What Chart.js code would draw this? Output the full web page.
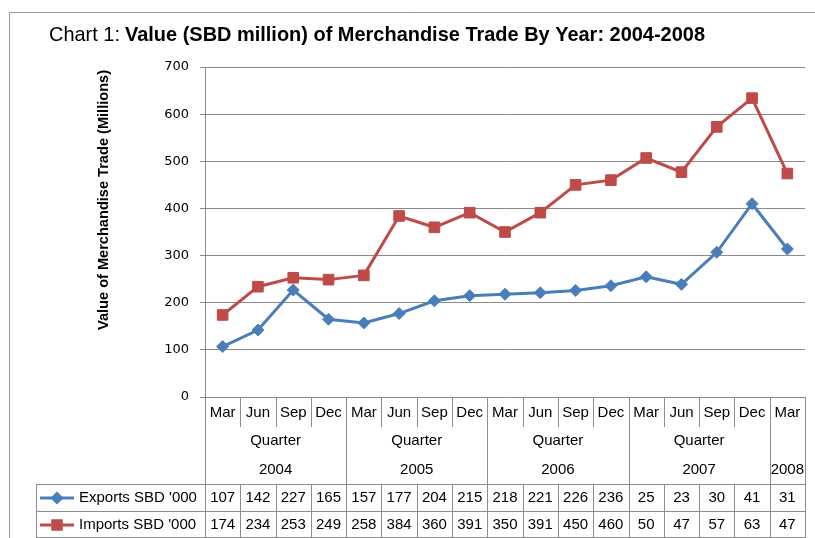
<!DOCTYPE html>
<html>
<head>
<meta charset="utf-8">
<script src="https://cdn.jsdelivr.net/npm/chart.js@4/dist/chart.umd.min.js"></script>
<style>
  html, body { margin: 0; padding: 0; background: #fff; }
  #wrap { width: 815px; height: 538px; }
</style>
</head>
<body>
<div id="wrap"><canvas id="tradeCanvas" width="815" height="538"></canvas></div>
<script>
// categories (quarter months) and year groups
const quarters = ["Mar","Jun","Sep","Dec","Mar","Jun","Sep","Dec","Mar","Jun","Sep","Dec","Mar","Jun","Sep","Dec","Mar"];
const years = ["2004","2005","2006","2007","2008"];
const yearSpans = [4, 4, 4, 4, 1];
const groupLabels = ["Quarter","Quarter","Quarter","Quarter",""];

// plotted values
const exportsValues = [107,142,227,165,157,177,204,215,218,221,226,236,255,239,307,410,314];
const importsValues = [174,234,253,249,258,384,360,391,350,391,450,460,507,477,573,634,474];

// values printed in the data table
const exportsTable = [107,142,227,165,157,177,204,215,218,221,226,236,25,23,30,41,31];
const importsTable = [174,234,253,249,258,384,360,391,350,391,450,460,50,47,57,63,47];

const seriesNames = ["Exports SBD '000", "Imports SBD '000"];
const yMin = 0, yMax = 700, yStep = 100;

const blue = "#4a7ebb";
const red = "#be4b48";
const lineGrey = "#8c8c8c";
const narrow = "'Liberation Sans Narrow', 'Liberation Sans', sans-serif";

function fitText(ctx, text, x, y, maxW, align) {
    const w = ctx.measureText(text).width;
    const s = w > maxW ? maxW / w : 1;
    ctx.save();
    ctx.translate(x, y);
    ctx.scale(s, 1);
    ctx.textAlign = align || "left";
    ctx.fillText(text, 0, 0);
    ctx.restore();
}

const tablePlugin = {
    id: "tablePlugin",
    afterDraw(chart) {
        const ctx = chart.ctx;
        const xs = chart.scales.x;
        const area = chart.chartArea;
        const half = (xs.getPixelForValue(1) - xs.getPixelForValue(0)) / 2;
        const edge = i => xs.getPixelForValue(i) - half;
        const n = quarters.length;
        const top = area.bottom;
        const rowMonthBottom = 427;
        const headBottom = 484;
        const rowMid = 511;
        const tableBottom = 538;
        const tableLeft = 36.5;

        ctx.save();
        // outer frame
        ctx.strokeStyle = "#9a9a9a";
        ctx.lineWidth = 1;
        ctx.beginPath();
        ctx.moveTo(9.5, 538); ctx.lineTo(9.5, 12.5); ctx.lineTo(815, 12.5);
        ctx.stroke();

        // title
        ctx.fillStyle = "#000";
        ctx.textBaseline = "middle";
        ctx.font = "21px " + narrow;
        fitText(ctx, "Chart 1:", 49, 35, 71, "left");
        ctx.font = "bold 21px " + narrow;
        fitText(ctx, "Value (SBD million) of Merchandise Trade By Year: 2004-2008", 125, 35, 580, "left");

        // y axis title
        ctx.save();
        ctx.translate(104, 200);
        ctx.rotate(-Math.PI / 2);
        ctx.font = "bold 15px " + narrow;
        fitText(ctx, "Value of Merchandise Trade (Millions)", 0, 0, 260, "center");
        ctx.restore();

        // grid lines of the table
        ctx.strokeStyle = lineGrey;
        ctx.lineWidth = 1;
        ctx.beginPath();
        // month separators
        for (let i = 0; i <= n; i++) {
            const x = Math.round(edge(i)) + 0.5;
            ctx.moveTo(x, top); ctx.lineTo(x, rowMonthBottom);
            ctx.moveTo(x, headBottom); ctx.lineTo(x, tableBottom);
        }
        // year group borders
        let k = 0;
        for (let g = 0; g <= yearSpans.length; g++) {
            const x = Math.round(edge(k)) + 0.5;
            ctx.moveTo(x, top); ctx.lineTo(x, headBottom);
            if (g < yearSpans.length) k += yearSpans[g];
        }
        // data rows
        const right = Math.round(edge(n)) + 0.5;
        [headBottom, rowMid, tableBottom - 1].forEach(y => {
            ctx.moveTo(tableLeft, y + 0.5); ctx.lineTo(right, y + 0.5);
        });
        ctx.moveTo(tableLeft, headBottom); ctx.lineTo(tableLeft, tableBottom);
        ctx.stroke();

        // month labels and table values
        ctx.fillStyle = "#000";
        ctx.font = "15px 'Liberation Sans', sans-serif";
        ctx.textAlign = "center";
        for (let i = 0; i < n; i++) {
            const cx = xs.getPixelForValue(i);
            fitText(ctx, quarters[i], cx, 413, 33, "center");
            fitText(ctx, String(exportsTable[i]), cx, 498, 33, "center");
            fitText(ctx, String(importsTable[i]), cx, 525, 33, "center");
        }
        // group labels
        k = 0;
        for (let g = 0; g < years.length; g++) {
            const cx = (edge(k) + edge(k + yearSpans[g])) / 2;
            if (groupLabels[g]) fitText(ctx, groupLabels[g], cx, 441, 120, "center");
            fitText(ctx, years[g], cx, 470, yearSpans[g] * 2 * half - 2, "center");
            k += yearSpans[g];
        }

        // legend keys
        const keys = [[blue, "rectRot", 4.5, 498], [red, "rect", 6, 525]];
        keys.forEach((kk, j) => {
            ctx.strokeStyle = kk[0];
            ctx.lineWidth = 3;
            ctx.beginPath();
            ctx.moveTo(40, kk[3]); ctx.lineTo(74, kk[3]);
            ctx.stroke();
            ctx.fillStyle = kk[0];
            Chart.helpers.drawPoint(ctx, { pointStyle: kk[1], radius: kk[2], borderWidth: 1 }, 57, kk[3]);
            ctx.fill();
            ctx.fillStyle = "#000";
            ctx.font = "15px 'Liberation Sans', sans-serif";
            fitText(ctx, seriesNames[j], 79, kk[3], 120, "left");
        });
        ctx.restore();
    }
};

const tradeCanvas = document.getElementById("tradeCanvas");
const tradeChart = new Chart(tradeCanvas, {
    type: "line",
    data: {
        labels: quarters,
        datasets: [{
            label: seriesNames[0],
            data: exportsValues,
            borderColor: blue,
            backgroundColor: blue,
            borderWidth: 3,
            pointStyle: "rectRot",
            pointRadius: 6,
            pointBorderWidth: 1,
            tension: 0
        }, {
            label: seriesNames[1],
            data: importsValues,
            borderColor: red,
            backgroundColor: red,
            borderWidth: 3,
            pointStyle: "rect",
            pointRadius: 7.5,
            pointBorderWidth: 1,
            tension: 0
        }]
    },
    options: {
        responsive: false,
        animation: false,
        devicePixelRatio: 1,
        layout: { padding: { top: 67, right: 10, bottom: 141, left: 0 } },
        plugins: {
            legend: { display: false },
            tooltip: { enabled: false }
        },
        scales: {
            x: {
                display: false,
                offset: true
            },
            y: {
                min: yMin,
                max: yMax,
                ticks: {
                    stepSize: yStep,
                    color: "#000",
                    padding: 11,
                    font: { family: "'DejaVu Sans'", size: 13 }
                },
                grid: {
                    color: "#8a8a8a",
                    tickLength: 5,
                    tickColor: "#8a8a8a"
                },
                border: { color: "#8a8a8a" },
                afterFit(scale) { scale.width = 205; }
            }
        }
    },
    plugins: [tablePlugin]
});
</script>
</body>
</html>
